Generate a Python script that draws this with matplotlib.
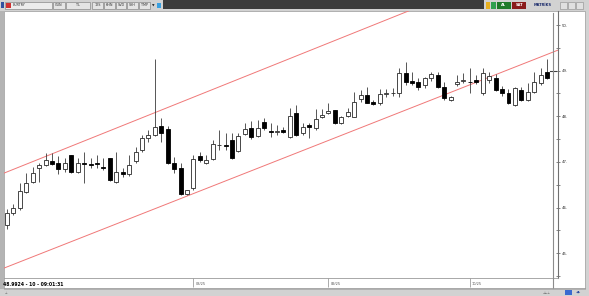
import matplotlib
matplotlib.use('Agg')
import matplotlib.pyplot as plt
from matplotlib.patches import Rectangle
from matplotlib.lines import Line2D
from matplotlib.ticker import FixedLocator, MultipleLocator, FuncFormatter
import numpy as np

W, H = 589, 296

# daily EURTRY candles
opens = [45.62, 45.88, 45.99, 46.34, 46.56, 46.87, 46.93, 47.02, 46.98, 46.85,
         47.15, 46.78, 46.97, 46.95, 46.98, 46.89, 47.09, 46.56, 46.78, 46.74,
         47.02, 47.26, 47.52, 47.59, 47.79, 47.72, 46.98, 46.87, 46.30, 46.43,
         47.13, 46.98, 47.06, 47.37, 47.37, 47.48, 47.24, 47.61, 47.74, 47.57,
         47.87, 47.68, 47.65, 47.70, 47.55, 48.07, 47.63, 47.81, 47.74, 47.98,
         48.07, 48.14, 47.85, 48.00, 47.98, 48.38, 48.47, 48.31, 48.29, 48.49,
         48.51, 48.51, 48.95, 48.77, 48.75, 48.69, 48.84, 48.91, 48.64, 48.36,
         48.71, 48.77, 48.76, 48.80, 48.51, 48.80, 48.84, 48.60, 48.51, 48.25,
         48.58, 48.36, 48.53, 48.73, 48.97]
highs = [45.97, 46.08, 46.54, 46.76, 46.89, 46.98, 47.20, 47.20, 47.13, 47.09,
         47.15, 47.09, 47.22, 47.09, 47.15, 47.09, 47.09, 47.22, 46.87, 47.15,
         47.33, 47.59, 47.70, 49.25, 47.96, 47.79, 47.11, 46.98, 46.39, 47.15,
         47.22, 47.15, 47.48, 47.70, 47.63, 47.63, 47.63, 47.85, 47.90, 47.92,
         47.96, 47.85, 47.81, 47.76, 48.18, 48.25, 47.85, 47.85, 48.16, 48.16,
         48.29, 48.14, 48.01, 48.18, 48.53, 48.58, 48.64, 48.36, 48.60, 48.60,
         48.62, 49.06, 49.19, 48.97, 48.84, 48.86, 48.97, 48.97, 48.75, 48.45,
         48.90, 48.95, 49.06, 48.90, 49.06, 48.97, 48.93, 48.67, 48.60, 48.64,
         48.64, 48.73, 48.97, 49.06, 49.25]
lows = [45.53, 45.84, 45.95, 46.32, 46.54, 46.56, 46.91, 46.93, 46.74, 46.78,
        46.76, 46.76, 46.54, 46.87, 46.87, 46.82, 46.58, 46.54, 46.67, 46.69,
        46.98, 47.22, 47.44, 47.57, 47.44, 46.96, 46.76, 46.28, 46.28, 46.39,
        47.00, 46.96, 47.04, 47.26, 47.26, 47.06, 47.22, 47.59, 47.50, 47.55,
        47.70, 47.55, 47.59, 47.63, 47.52, 47.57, 47.59, 47.52, 47.70, 47.96,
        48.05, 47.83, 47.83, 47.98, 47.98, 48.31, 48.29, 48.25, 48.25, 48.42,
        48.45, 48.42, 48.69, 48.69, 48.58, 48.62, 48.77, 48.62, 48.36, 48.34,
        48.66, 48.73, 48.51, 48.70, 48.47, 48.73, 48.55, 48.45, 48.27, 48.23,
        48.33, 48.33, 48.51, 48.69, 48.82]
closes = [45.88, 45.99, 46.36, 46.54, 46.76, 46.93, 47.04, 46.96, 46.85, 46.98,
          46.78, 46.98, 46.95, 46.93, 46.96, 46.86, 46.60, 46.78, 46.74, 46.93,
          47.22, 47.52, 47.59, 47.77, 47.63, 46.98, 46.85, 46.30, 46.39, 47.06,
          47.04, 47.04, 47.39, 47.38, 47.36, 47.09, 47.57, 47.72, 47.55, 47.74,
          47.74, 47.65, 47.68, 47.66, 48.00, 47.59, 47.77, 47.77, 47.94, 48.03,
          48.11, 47.85, 47.98, 48.09, 48.31, 48.47, 48.29, 48.27, 48.49, 48.50,
          48.52, 48.95, 48.75, 48.73, 48.64, 48.84, 48.93, 48.64, 48.40, 48.42,
          48.75, 48.80, 48.75, 48.75, 48.95, 48.88, 48.58, 48.51, 48.29, 48.62,
          48.36, 48.53, 48.75, 48.90, 48.84]

month_ticks = [29, 50, 72]
month_labels = ['08/25', '09/25', '10/25']
price_ticks = [45, 46, 47, 48, 49, 50]
channel_x = [-1.1, 85.7]
channel_upper = [46.72, 51.62]
channel_lower = [44.64, 49.45]
last_price = 48.9924
status_text = '48.9924 - 10 - 09:01:31'
toolbar_items = [('GUN', 53, 65), ('TL', 66, 90), ('12S', 92, 103), ('KHN', 104, 115),
                 ('SVD', 116, 126), ('SYH', 127, 138), ('TMP', 139, 150)]


def box(fig, x0, y0, x1, y1, fc, ec='none', lw=0.5, z=1):
    """Rectangle given in screenshot pixels (y from top)"""
    fig.add_artist(Rectangle((x0 / W, 1 - y1 / H), (x1 - x0) / W, (y1 - y0) / H,
                             facecolor=fc, edgecolor=ec, linewidth=lw,
                             transform=fig.transFigure, zorder=z))


def line(fig, x0, y0, x1, y1, color, lw=0.6, z=6):
    fig.add_artist(Line2D([x0 / W, x1 / W], [1 - y0 / H, 1 - y1 / H], color=color,
                          linewidth=lw, transform=fig.transFigure, zorder=z))


def label(fig, x, y, s, size=2.6, **kw):
    fig.text(x / W, 1 - y / H, s, va='center', fontsize=size, zorder=7, **kw)


def main():
    fig = plt.figure(figsize=(W / 100, H / 100), dpi=100, facecolor='#d2d2d2')

    # window chrome
    box(fig, 4, 11, 585, 289, 'white', ec='#9a9a9a')
    box(fig, 0, 11, 4, 289, '#b4b4b4')
    box(fig, 163, 0, 484, 9, '#3c3c3c')
    box(fig, 1, 2, 4, 8, '#3050a0')
    box(fig, 5, 2, 52, 9, '#ececec', ec='#8a8a8a')
    box(fig, 6, 3, 11, 8, '#d03030')
    label(fig, 13, 5.5, 'EURTRY', size=2.4, color='#333333')
    for name, x0, x1 in toolbar_items:
        box(fig, x0, 2, x1, 9, '#e4e4e4', ec='#8a8a8a')
        label(fig, (x0 + x1) / 2, 5.5, name, size=2.4, ha='center', color='#333333')
    label(fig, 153.5, 5.5, '▼', size=2.4, ha='center', color='#222222')
    box(fig, 157, 3, 161, 8, '#3aa0e0')
    box(fig, 486, 2, 490, 9, '#e8b020')
    box(fig, 491, 2, 496, 9, '#30a050')
    box(fig, 497, 2, 511, 9, '#1f7a2a')
    label(fig, 504, 5.5, 'AL', size=2.6, ha='center', color='white', weight='bold')
    box(fig, 512, 2, 526, 9, '#8a1c1c')
    label(fig, 519, 5.5, 'SAT', size=2.6, ha='center', color='white', weight='bold')
    label(fig, 543, 5.5, 'MATRİKS', size=2.6, ha='center', color='#1c2c6c', weight='bold')
    for bx in (560, 568, 576):
        box(fig, bx, 2, bx + 7, 9, '#e0e0e0', ec='#9a9a9a')
    line(fig, 553, 13, 553, 288, '#8c8c8c', lw=0.8)
    line(fig, 4, 288, 585, 288, '#9a9a9a')
    label(fig, 547, 292.5, '⊥⊥⊥', size=2.2, ha='center', color='#666666')
    box(fig, 565, 290, 572, 295, '#3a6ad0')
    label(fig, 579, 292.5, '◀▶', size=2.4, ha='center', color='#2a4aa0')
    label(fig, 5, 292.5, '⊥', size=2.2, color='#666666')
    label(fig, 3, 284, status_text, size=3.3, weight='bold', color='black')

    # chart
    ax = fig.add_axes([4 / W, (H - 278) / H, 554 / W, 267 / H])
    ax.set_zorder(3)
    ax.patch.set_alpha(0)
    o, h, l, c = (np.array(v) for v in (opens, highs, lows, closes))
    idx = np.arange(len(o))
    up = c >= o
    ax.vlines(idx, l, h, color='#3a3a3a', linewidth=0.6, zorder=2)
    ax.bar(idx[up], c[up] - o[up], bottom=o[up], width=0.62, color='white',
           edgecolor='#2a2a2a', linewidth=0.6, zorder=3)
    ax.bar(idx[~up], o[~up] - c[~up], bottom=c[~up], width=0.62, color='black',
           edgecolor='black', linewidth=0.6, zorder=3)
    ax.plot(channel_x, channel_upper, color='#f07878', linewidth=0.7, zorder=1)
    ax.plot(channel_x, channel_lower, color='#f07878', linewidth=0.7, zorder=1)
    ax.plot([len(o) - 0.6, len(o) + 0.4], [last_price, last_price], color='#404040',
            linewidth=0.8, zorder=4, clip_on=False)

    ax.set_xlim(-0.47, 85.7)
    ax.set_ylim(44.458, 50.307)
    for side in ('left', 'top'):
        ax.spines[side].set_visible(False)
    ax.spines['right'].set_color('#707070')
    ax.spines['bottom'].set_color('#9a9a9a')
    ax.spines['right'].set_linewidth(0.8)
    ax.spines['bottom'].set_linewidth(0.6)

    ax.yaxis.tick_right()
    ax.yaxis.set_major_locator(FixedLocator(price_ticks))
    ax.yaxis.set_minor_locator(MultipleLocator(0.5))
    ax.yaxis.set_major_formatter(FuncFormatter(lambda v, pos: '%d.' % v))
    ax.tick_params(axis='y', which='both', direction='inout', length=3.5,
                   width=0.5, color='#555555', labelsize=2.8, pad=1,
                   labelcolor='#333333')

    ax.set_xticks(month_ticks)
    ax.set_xticklabels([])
    ax.tick_params(axis='x', direction='out', length=6.5, width=0.5, color='#8a8a8a')
    for t, lab in zip(month_ticks, month_labels):
        ax.annotate(lab, (t, 0), xycoords=('data', 'axes fraction'),
                    xytext=(1.5, -4.3), textcoords='offset points',
                    ha='left', va='center', fontsize=2.5, color='#555555')

    fig.savefig('out.png', dpi=100, facecolor=fig.get_facecolor())


if __name__ == "__main__":
    main()
